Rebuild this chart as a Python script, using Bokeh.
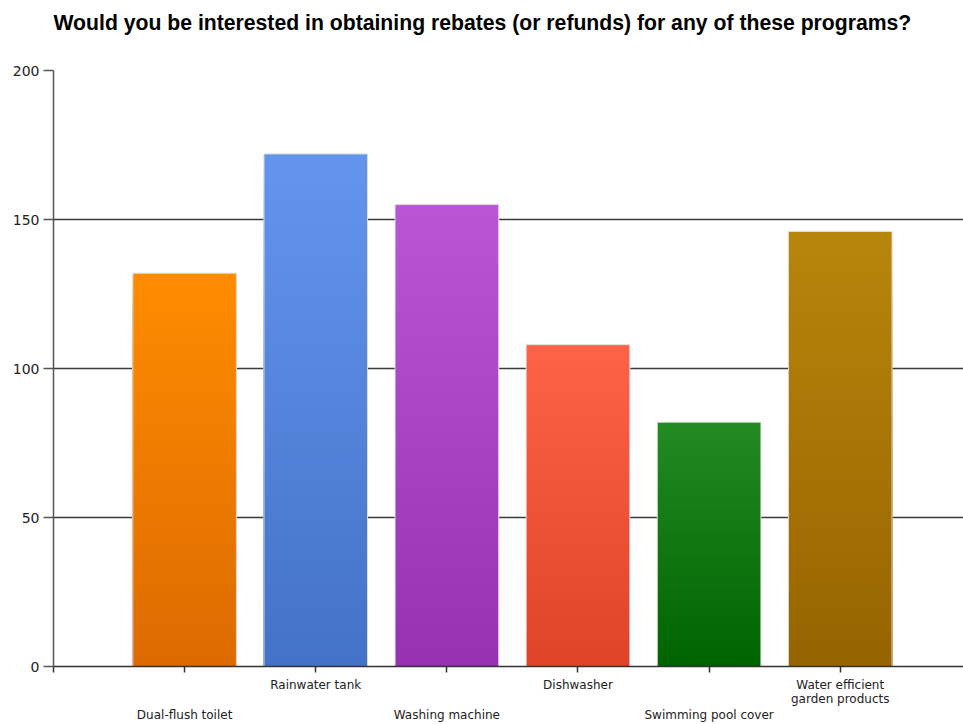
import numpy as np
from bokeh.plotting import figure
from bokeh.models import Range1d, FixedTicker, LinearAxis, ColumnDataSource, Title
from bokeh.embed import file_html
from bokeh.resources import INLINE

# ---- data ----
categories = ["Dual-flush toilet", "Rainwater tank", "Washing machine",
              "Dishwasher", "Swimming pool cover", "Water efficient\ngarden products"]
counts = [132, 172, 155, 108, 82, 146]
y_ticks = [0, 50, 100, 150, 200]
top_colors = ["#FF8C00", "#6495ED", "#BA55D3", "#FF6347", "#228B22", "#B8860B"]
bottom_colors = ["#DC6A00", "#4372C8", "#9632B0", "#DE4428", "#006400", "#966400"]
title_text = "Would you be interested in obtaining rebates (or refunds) for any of these programs?"

positions = list(range(1, len(categories) + 1))
BAR_W = 0.79
N_SLICES = 80


def hex2rgb(h):
    h = h.lstrip("#")
    return np.array([int(h[i:i + 2], 16) for i in (0, 2, 4)], dtype=float)


def rgb2hex(c):
    return "#%02x%02x%02x" % tuple(int(round(v)) for v in c)


p = figure(width=963, height=724, x_range=Range1d(0, 6.94), y_range=Range1d(0, 200),
           output_backend="svg", toolbar_location=None, tools="",
           min_border_left=53, min_border_right=0, min_border_top=70, min_border_bottom=58)
p.outline_line_color = None
p.background_fill_color = "white"
p.border_fill_color = "white"

# title (outermost) plus an invisible spacer panel between it and the frame
p.title = Title(text=title_text, align="left", vertical_align="top",
                text_font="Liberation Sans", text_font_style="bold",
                text_font_size="21.2px", text_color="#000000", standoff=15)
p.add_layout(Title(text=" ", text_font_size="1px", standoff=24), "above")

# gradient bars: nested rectangles from 0, tallest first, so no seams
left, right, bottom, top, colors = [], [], [], [], []
for pos, v, tc, bc in zip(positions, counts, top_colors, bottom_colors):
    t, b = hex2rgb(tc), hex2rgb(bc)
    for k in range(N_SLICES):
        frac_top = (N_SLICES - k) / N_SLICES
        f = (N_SLICES - k - 0.5) / N_SLICES
        left.append(pos - BAR_W / 2)
        right.append(pos + BAR_W / 2)
        bottom.append(0)
        top.append(v * frac_top)
        colors.append(rgb2hex(b + (t - b) * f))
src = ColumnDataSource(dict(left=left, right=right, bottom=bottom, top=top, color=colors))
p.quad(left="left", right="right", bottom="bottom", top="top", fill_color="color",
       line_color=None, source=src)

# light border around each bar
p.vbar(x=positions, top=counts, width=BAR_W, fill_alpha=0, line_color="#dedede", line_width=1)

# grid
p.xgrid.grid_line_color = None
p.ygrid.ticker = FixedTicker(ticks=y_ticks)
p.ygrid.grid_line_color = "#3a3a3a"
p.ygrid.grid_line_width = 1.5

# y axis
p.yaxis.ticker = FixedTicker(ticks=y_ticks)
p.yaxis.axis_line_color = "#555555"
p.yaxis.axis_line_width = 1.5
p.yaxis.major_tick_line_color = "#555555"
p.yaxis.major_tick_line_width = 1.5
p.yaxis.major_tick_out = 10
p.yaxis.major_tick_in = 0
p.yaxis.minor_tick_line_color = None
p.yaxis.major_label_standoff = 4
p.yaxis.major_label_text_font = "DejaVu Sans"
p.yaxis.major_label_text_font_size = "14px"
p.yaxis.major_label_text_color = "#222222"

# x axis (row 1: odd categories) and a second, line-less axis below (row 2)
row1 = {0: ""}
row2 = {0: ""}
for i, (pos, name) in enumerate(zip(positions, categories)):
    row1[pos] = name if i % 2 == 1 else ""
    row2[pos] = name if i % 2 == 0 else ""

xa = p.xaxis[0]
xa.ticker = FixedTicker(ticks=[0] + positions)
xa.axis_line_color = "#333333"
xa.axis_line_width = 1.5
xa.major_tick_line_color = "#333333"
xa.major_tick_line_width = 1.5
xa.major_tick_out = 6
xa.major_tick_in = 0
xa.minor_tick_line_color = None
xa.major_label_overrides = row1
xa.major_label_standoff = 5
xa.major_label_text_font = "DejaVu Sans"
xa.major_label_text_font_size = "12px"
xa.major_label_text_color = "#222222"
xa.major_label_text_line_height = 1.0

xb = LinearAxis(ticker=FixedTicker(ticks=[0] + positions))
xb.axis_line_color = None
xb.major_tick_line_color = None
xb.minor_tick_line_color = None
xb.major_tick_out = 0
xb.major_tick_in = 0
xb.major_label_overrides = row2
xb.major_label_standoff = -1
xb.major_label_text_font = "DejaVu Sans"
xb.major_label_text_font_size = "12px"
xb.major_label_text_color = "#222222"
p.add_layout(xb, "below")

open("out.html", "w").write(file_html(p, INLINE))
